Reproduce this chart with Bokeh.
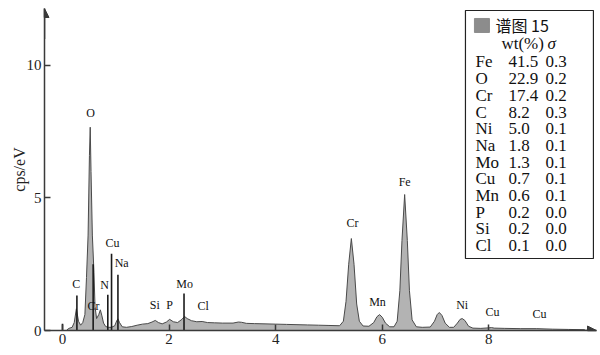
from bokeh.plotting import figure
from bokeh.models import Label, Arrow, NormalHead, FixedTicker, ColumnDataSource
from bokeh.core.properties import value
from bokeh.embed import file_html
from bokeh.resources import INLINE

# ---------------- data ----------------
energy = [0.08, 0.12, 0.18, 0.22, 0.26, 0.30, 0.34, 0.38, 0.42, 0.45, 0.48, 0.505, 0.52, 0.535,
          0.56, 0.59, 0.61, 0.64, 0.68, 0.71, 0.74, 0.77, 0.81, 0.86, 0.92, 0.98, 1.02, 1.04,
          1.07, 1.12, 1.2, 1.3, 1.4, 1.5, 1.6, 1.68, 1.74, 1.8, 1.87, 1.95, 2.01, 2.08, 2.16,
          2.24, 2.29, 2.34, 2.42, 2.52, 2.62, 2.72, 2.85, 3.0, 3.2, 3.3, 3.36, 3.45, 3.6, 3.8,
          4.0, 4.2, 4.4, 4.6, 4.8, 5.0, 5.2, 5.27, 5.32, 5.37, 5.42, 5.47, 5.52, 5.57, 5.64,
          5.75, 5.84, 5.9, 5.95, 6.0, 6.06, 6.14, 6.22, 6.28, 6.33, 6.37, 6.42, 6.47, 6.51,
          6.56, 6.64, 6.75, 6.9, 6.98, 7.03, 7.07, 7.12, 7.18, 7.26, 7.34, 7.41, 7.46, 7.5,
          7.55, 7.62, 7.7, 7.85, 8.0, 8.05, 8.1, 8.3, 8.6, 8.9, 9.2, 9.5, 9.8]
counts = [0.02, 0.08, 0.12, 0.3, 0.82, 0.35, 0.2, 0.3, 0.6, 2.0, 3.6, 6.6, 7.67, 6.0,
          3.6, 2.2, 0.9, 0.45, 0.6, 0.78, 0.55, 0.28, 0.15, 0.12, 0.12, 0.18, 0.38, 0.44,
          0.3, 0.14, 0.12, 0.15, 0.2, 0.24, 0.26, 0.32, 0.38, 0.3, 0.25, 0.32, 0.42, 0.33, 0.3,
          0.42, 0.53, 0.45, 0.37, 0.33, 0.34, 0.3, 0.29, 0.28, 0.28, 0.32, 0.31, 0.27, 0.26, 0.25,
          0.24, 0.23, 0.22, 0.21, 0.2, 0.19, 0.18, 0.35, 1.1, 2.5, 3.47, 2.5, 1.0, 0.35, 0.17,
          0.16, 0.3, 0.52, 0.6, 0.5, 0.28, 0.14, 0.14, 0.35, 1.5, 3.4, 5.13, 3.4, 1.5,
          0.4, 0.14, 0.12, 0.13, 0.35, 0.6, 0.68, 0.57, 0.28, 0.12, 0.12, 0.28, 0.42, 0.45,
          0.38, 0.16, 0.09, 0.08, 0.1, 0.11, 0.09, 0.08, 0.07, 0.07, 0.05, 0.04, 0.03]

# marker lines (element line positions and heights)
marker_energy = [0.0, 0.27, 0.575, 0.85, 0.92, 1.04, 2.28]
marker_height = [0.25, 1.32, 2.5, 1.35, 2.9, 2.1, 1.4]

# peak labels
peak_names = ["O", "C", "Cr", "N", "Cu", "Na", "Si", "P", "Mo", "Cl",
              "Cr", "Fe", "Mn", "Ni", "Cu", "Cu"]
peak_energy = [0.525, 0.26, 0.58, 0.79, 0.94, 1.11, 1.73, 2.01, 2.29, 2.64,
               5.44, 6.42, 5.91, 7.5, 8.07, 8.95]
peak_label_y = [8.19, 1.74, 0.91, 1.70, 3.32, 2.53, 0.98, 0.98, 1.74, 0.94,
                4.04, 5.62, 1.06, 0.98, 0.68, 0.64]

# composition table
elements = ["Fe", "O", "Cr", "C", "Ni", "Na", "Mo", "Cu", "Mn", "P", "Si", "Cl"]
wt_pct = ["41.5", "22.9", "17.4", "8.2", "5.0", "1.8", "1.3", "0.7", "0.6", "0.2", "0.2", "0.1"]
sigma = ["0.3", "0.2", "0.2", "0.3", "0.1", "0.1", "0.1", "0.1", "0.1", "0.0", "0.0", "0.0"]

x_ticks = [0, 2, 4, 6, 8]
y_ticks = [0, 5, 10]

# ---------------- figure ----------------
X0, X1, Y0, Y1 = -0.338, 10.02, 0, 12.15
SERIF = "Liberation Serif"
AX = "#3a3a3a"

p = figure(width=600, height=355, x_range=(X0, X1), y_range=(Y0, Y1),
           output_backend="svg", toolbar_location=None,
           min_border_left=44, min_border_right=4, min_border_top=8, min_border_bottom=25)
p.outline_line_color = None
p.xgrid.grid_line_color = None
p.ygrid.grid_line_color = None
p.background_fill_color = "white"

for ax in (p.xaxis[0], p.yaxis[0]):
    ax.axis_line_color = AX
    ax.axis_line_width = 1.5
    ax.major_tick_in = 6
    ax.major_tick_out = 0
    ax.major_tick_line_color = AX
    ax.major_tick_line_width = 1.5
    ax.minor_tick_line_color = None
    ax.major_label_text_font = SERIF
    ax.major_label_text_font_size = "15px"
    ax.major_label_text_color = "#222222"
    ax.major_label_standoff = 3

p.xaxis.ticker = FixedTicker(ticks=x_ticks)
p.yaxis.ticker = FixedTicker(ticks=y_ticks)
p.yaxis.axis_label = "cps/eV"
p.yaxis.axis_label_text_font = SERIF
p.yaxis.axis_label_text_font_style = "normal"
p.yaxis.axis_label_text_font_size = "16px"
p.yaxis.axis_label_text_color = "#222222"
p.yaxis.axis_label_standoff = -4

# spectrum
src = ColumnDataSource(dict(x=energy, y=counts))
p.varea(x="x", y1=0, y2="y", source=src, fill_color="#b3b3b3")
p.line(x="x", y="y", source=src, line_color="#4a4a4a", line_width=1)

# marker lines
p.segment(x0=marker_energy, y0=[0] * len(marker_energy), x1=marker_energy, y1=marker_height,
          line_color="#1a1a1a", line_width=1.6)

# peak labels
p.text(x=peak_energy, y=peak_label_y, text=peak_names, text_font=value(SERIF),
       text_font_size="12px", text_align="center", text_baseline="middle", text_color="#111111")

# axis arrows
p.add_layout(Arrow(end=NormalHead(size=9, fill_color=AX, line_color=AX),
                   x_start=X0, y_start=11.0, x_end=X0, y_end=Y1,
                   line_color=AX, line_width=1.5))
p.add_layout(Arrow(end=NormalHead(size=9, fill_color=AX, line_color=AX),
                   x_start=9.5, y_start=0, x_end=X1, y_end=0,
                   line_color=AX, line_width=1.5))

# keV label
p.add_layout(Label(x=9.55, y=-0.57, text="keV", text_font=SERIF, text_font_size="15px",
                   text_align="center", text_baseline="middle", text_color="#222222"))

# ---------- legend / composition table ----------
PX = 53.3
PY = 26.5
def dx(px):
    return (px - 62) / PX
def dy(py):
    return (330 - py) / PY

p.quad(left=dx(465), right=dx(593), top=dy(10), bottom=dy(258),
       fill_color="white", line_color="#222222", line_width=1.2)
p.quad(left=dx(474), right=dx(489), top=dy(18), bottom=dy(32),
       fill_color="#8c8c8c", line_color="#8c8c8c")
p.text(x=[dx(495)], y=[dy(25)], text=["谱图 15"], text_font=value("Noto Sans CJK SC"),
       text_font_size="16px", text_baseline="middle", text_color="#111111")
p.text(x=[dx(501)], y=[dy(43)], text=["wt(%)"], text_font=value(SERIF),
       text_font_size="17px", text_baseline="middle", text_color="#111111")
p.text(x=[dx(547)], y=[dy(43)], text=["σ"], text_font=value(SERIF), text_font_style="italic",
       text_font_size="17px", text_baseline="middle", text_color="#111111")

row_y = [dy(61.5 + i * 16.7) for i in range(len(elements))]
p.text(x=[dx(475)] * len(elements), y=row_y, text=elements, text_font=value(SERIF),
       text_font_size="17px", text_baseline="middle", text_color="#111111")
p.text(x=[dx(508)] * len(elements), y=row_y, text=wt_pct, text_font=value(SERIF),
       text_font_size="17px", text_baseline="middle", text_color="#111111")
p.text(x=[dx(545)] * len(elements), y=row_y, text=sigma, text_font=value(SERIF),
       text_font_size="17px", text_baseline="middle", text_color="#111111")

open("out.html", "w").write(file_html(p, INLINE))
